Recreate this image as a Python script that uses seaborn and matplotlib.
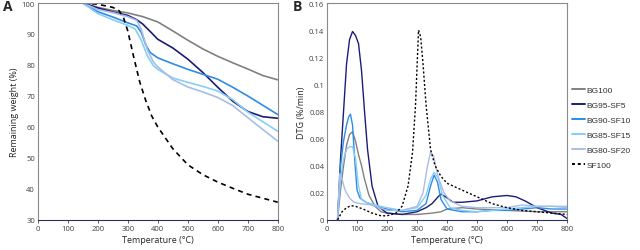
import matplotlib
matplotlib.use("Agg")
import matplotlib.pyplot as plt
import numpy as np
import pandas as pd
import seaborn as sns

# ---- panel A: remaining weight (%) ----
tga_t = {
    "BG100": [150, 200, 250, 300, 350, 400, 450, 500, 550, 600, 650, 700, 750, 800],
    "BG95-SF5": [150, 200, 250, 300, 330, 350, 375, 400, 450, 500, 550, 600, 650, 700, 750, 800],
    "BG90-SF10": [150, 200, 250, 300, 330, 345, 360, 375, 400, 450, 500, 550, 600, 650, 700, 750, 800],
    "BG85-SF15": [150, 200, 250, 300, 325, 345, 365, 385, 400, 450, 500, 550, 600, 650, 700, 750, 800],
    "BG80-SF20": [150, 200, 250, 300, 330, 345, 365, 385, 400, 450, 500, 550, 600, 650, 700, 750, 800],
    "SF100": [150, 200, 250, 270, 285, 300, 320, 340, 360, 380, 400, 450, 500, 550, 600, 650, 700, 750, 800],
}
tga_w = {
    "BG100": [100, 98.6, 97.6, 96.8, 95.6, 93.9, 91.0, 88.0, 85.2, 82.8, 80.7, 78.7, 76.6, 75.2],
    "BG95-SF5": [100, 98.4, 97.1, 96.0, 94.6, 93.2, 90.8, 88.3, 85.5, 81.9, 77.6, 72.8, 68.3, 65.0, 63.3, 62.8],
    "BG90-SF10": [100, 97.2, 95.5, 93.6, 92.6, 90.5, 86.5, 84.0, 82.3, 80.4, 78.6, 77.0, 75.4, 72.8, 70.0, 67.0, 64.0],
    "BG85-SF15": [100, 96.6, 94.6, 92.8, 91.6, 88.0, 83.0, 79.8, 78.6, 75.8, 74.4, 73.1, 71.6, 68.8, 64.8, 61.7, 58.6],
    "BG80-SF20": [100, 97.9, 96.9, 95.6, 94.4, 91.5, 85.0, 81.0, 79.4, 75.3, 72.9, 71.3, 69.5, 66.9, 63.0, 59.2, 55.4],
    "SF100": [100, 99.6, 98.6, 97.6, 95.5, 91.0, 82.5, 74.5, 68.5, 63.5, 60.0, 53.0, 47.8, 44.6, 42.2, 40.2, 38.3, 37.0, 35.7],
}

# ---- panel B: DTG (%/min) ----
dtg_t = {
    "BG100": [35, 45, 55, 65, 75, 85, 95, 105, 115, 125, 140, 160, 180, 200, 250, 300, 350, 380, 400, 450, 500, 550, 600, 650, 700, 750, 800],
    "BG95-SF5": [35, 45, 55, 65, 75, 85, 95, 105, 115, 125, 135, 150, 170, 200, 250, 300, 330, 350, 370, 380, 395, 420, 450, 500, 550, 600, 630, 660, 700, 750, 780, 800],
    "BG90-SF10": [35, 45, 55, 65, 72, 78, 85, 92, 100, 110, 130, 160, 200, 250, 300, 330, 345, 357, 368, 380, 400, 450, 500, 550, 600, 650, 700, 750, 800],
    "BG85-SF15": [35, 45, 55, 65, 75, 85, 95, 105, 115, 130, 160, 200, 250, 300, 330, 345, 357, 370, 385, 410, 450, 500, 550, 600, 650, 700, 750, 800],
    "BG80-SF20": [35, 42, 50, 60, 75, 90, 110, 150, 200, 250, 300, 320, 335, 345, 355, 370, 390, 410, 450, 500, 550, 600, 650, 700, 750, 800],
    "SF100": [35, 50, 65, 80, 95, 120, 150, 180, 200, 230, 250, 270, 285, 295, 305, 312, 320, 330, 345, 360, 380, 400, 450, 500, 550, 600, 650, 700, 750, 800],
}
dtg_v = {
    "BG100": [0, 0.022, 0.040, 0.055, 0.063, 0.065, 0.058, 0.048, 0.040, 0.030, 0.018, 0.010, 0.006, 0.005, 0.004, 0.004, 0.005, 0.006, 0.008, 0.009, 0.008, 0.0075, 0.007, 0.0065, 0.006, 0.006, 0.006],
    "BG95-SF5": [0, 0.045, 0.080, 0.115, 0.133, 0.139, 0.136, 0.130, 0.110, 0.080, 0.052, 0.025, 0.010, 0.005, 0.004, 0.006, 0.009, 0.012, 0.017, 0.019, 0.017, 0.013, 0.013, 0.014, 0.017, 0.018, 0.017, 0.014, 0.009, 0.005, 0.004, 0.001],
    "BG90-SF10": [0, 0.040, 0.058, 0.070, 0.076, 0.078, 0.070, 0.045, 0.022, 0.016, 0.013, 0.010, 0.008, 0.006, 0.007, 0.012, 0.025, 0.033, 0.028, 0.015, 0.008, 0.006, 0.006, 0.007, 0.007, 0.008, 0.009, 0.008, 0.008],
    "BG85-SF15": [0, 0.030, 0.045, 0.052, 0.054, 0.054, 0.045, 0.025, 0.015, 0.013, 0.011, 0.009, 0.007, 0.009, 0.018, 0.030, 0.035, 0.031, 0.018, 0.009, 0.007, 0.006, 0.007, 0.008, 0.009, 0.010, 0.010, 0.009],
    "BG80-SF20": [0, 0.034, 0.030, 0.022, 0.016, 0.013, 0.012, 0.011, 0.007, 0.007, 0.010, 0.020, 0.040, 0.050, 0.047, 0.032, 0.020, 0.014, 0.010, 0.009, 0.009, 0.009, 0.011, 0.010, 0.010, 0.010],
    "SF100": [0, 0.006, 0.009, 0.0105, 0.010, 0.008, 0.005, 0.003, 0.003, 0.005, 0.010, 0.025, 0.050, 0.085, 0.140, 0.135, 0.115, 0.085, 0.052, 0.040, 0.032, 0.027, 0.022, 0.017, 0.012, 0.009, 0.007, 0.006, 0.005, 0.004],
}

labels = ["BG100", "BG95-SF5", "BG90-SF10", "BG85-SF15", "BG80-SF20", "SF100"]
colors = {
    "BG100": "#808080",
    "BG95-SF5": "#1c1c78",
    "BG90-SF10": "#2f8be8",
    "BG85-SF15": "#86cdf7",
    "BG80-SF20": "#a8bde6",
    "SF100": "#000000",
}


def long_frame(tdict, vdict):
    rows = []
    for k in labels:
        for t, v in zip(tdict[k], vdict[k]):
            rows.append((k, t, v))
    return pd.DataFrame(rows, columns=["sample", "temp", "value"])


tga = long_frame(tga_t, tga_w)
dtg = long_frame(dtg_t, dtg_v)

sns.set_theme(style="white")
plt.rcParams["font.family"] = ["Open Sans", "DejaVu Sans"]

fig = plt.figure(figsize=(6.4, 2.51), dpi=100)
axA = fig.add_axes([0.059, 0.12, 0.375, 0.864])
axB = fig.add_axes([0.511, 0.12, 0.375, 0.864])

dashes = {k: "" for k in labels}
dashes["SF100"] = (3, 2.5)

sns.lineplot(data=tga, x="temp", y="value", hue="sample", style="sample",
             hue_order=labels, style_order=labels, palette=colors,
             dashes=dashes, linewidth=1.2, ax=axA, legend=False)
sns.lineplot(data=dtg, x="temp", y="value", hue="sample", style="sample",
             hue_order=labels, style_order=labels, palette=colors,
             dashes={**dashes, "SF100": (1.5, 1.5)}, linewidth=1.0, ax=axB)

axA.set_xlim(0, 800)
axA.set_ylim(30, 100)
axA.set_xticks(range(0, 801, 100))
axA.set_yticks(range(30, 101, 10))
axA.set_ylabel("Remaining weight (%)", fontsize=6.5, labelpad=2)

axB.set_xlim(0, 800)
axB.set_ylim(0, 0.16)
axB.set_xticks(range(0, 801, 100))
axB.set_yticks([0, 0.02, 0.04, 0.06, 0.08, 0.1, 0.12, 0.14, 0.16])
axB.set_yticklabels(["0", "0.02", "0.04", "0.06", "0.08", "0.1", "0.12", "0.14", "0.16"])
axB.set_ylabel("DTG (%/min)", fontsize=6.5, labelpad=2)

for ax in (axA, axB):
    ax.set_xlabel("Temperature (°C)", fontsize=6.5, labelpad=2)
    ax.tick_params(axis="both", labelsize=5.5, length=2, width=0.6, pad=2,
                   colors="#404040")
    ax.tick_params(axis="y", length=0)
    ax.tick_params(axis="x", direction="out", bottom=True)
    for s in ax.spines.values():
        s.set_color("#8a8a8a")
        s.set_linewidth(0.8)
    ax.spines["bottom"].set_color("#303060")

leg = axB.legend(loc="center left", bbox_to_anchor=(1.005, 0.425), frameon=False,
                 fontsize=6.0, handlelength=1.5, labelspacing=0.85, handletextpad=0.15,
                 borderaxespad=0.3, borderpad=0.2)
for t in leg.get_texts():
    t.set_family(["Liberation Sans", "DejaVu Sans"])
    t.set_color("#303030")
for h in leg.get_lines():
    h.set_linewidth(1.4)

fig.text(0.004, 0.955, "A", fontsize=10, fontweight="bold")
fig.text(0.458, 0.955, "B", fontsize=10, fontweight="bold")

fig.savefig("out.png", dpi=100)
